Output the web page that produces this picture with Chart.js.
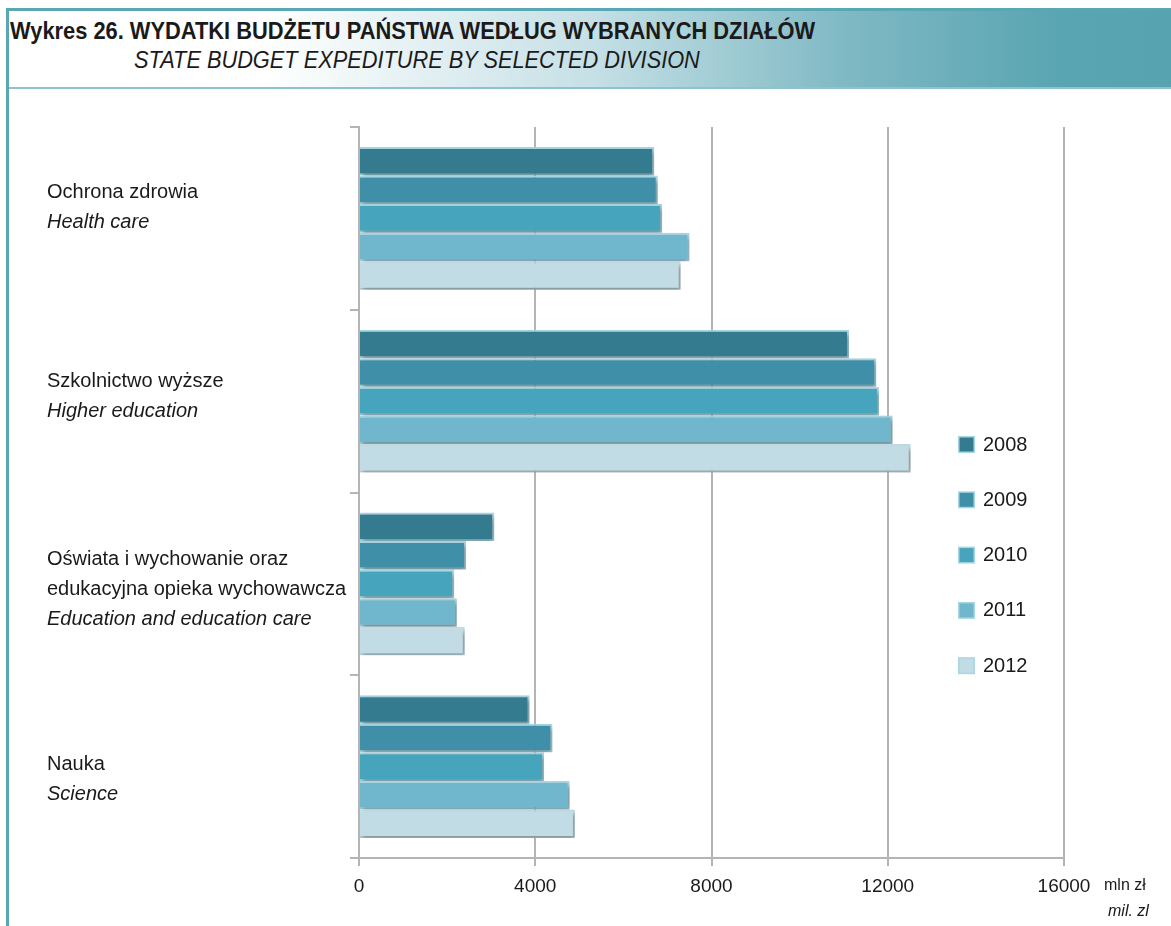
<!DOCTYPE html>
<html>
<head>
<meta charset="utf-8">
<script src="https://cdn.jsdelivr.net/npm/chart.js@4/dist/chart.umd.min.js"></script>
<style>
  html, body { margin: 0; padding: 0; background: #fff; }
  #page { position: relative; width: 1171px; height: 926px; overflow: hidden; }
  #frame { position: absolute; left: 6px; top: 8px; width: 1165px; height: 918px; border-left: 3px solid #5aa7b4; border-top: 3px solid #5aa7b4; box-sizing: border-box; }
  #header { position: absolute; left: 9px; top: 11px; width: 1162px; height: 76px;
    background: linear-gradient(90deg, #ffffff 0%, #ffffff 22%, #c6e0e6 50%, #7fb9c4 72%, #5aa5b2 90%, #57a3b0 100%);
    border-bottom: 2px solid #8cc3cd; }
  #title { position: absolute; left: 10px; top: 18px; font: bold 23px "Liberation Sans", Arial, sans-serif; color: #1a1a1a; white-space: nowrap; transform: scaleX(0.95); transform-origin: left center; }
  #subtitle { position: absolute; left: 134px; top: 47px; font: italic 23px "Liberation Sans", Arial, sans-serif; color: #1a1a1a; white-space: nowrap; transform: scaleX(0.946); transform-origin: left center; }
  #chartBox { position: absolute; left: 0; top: 88px; width: 1171px; height: 838px; }
</style>
</head>
<body>
<div id="page">
  <div id="frame"></div>
  <div id="header"></div>
  <div id="title">Wykres 26. WYDATKI BUDŻETU PAŃSTWA WEDŁUG WYBRANYCH DZIAŁÓW</div>
  <div id="subtitle">STATE BUDGET EXPEDITURE BY SELECTED DIVISION</div>
  <div id="chartBox"><canvas id="budgetChart"></canvas></div>
</div>
<script>
const categoriesPl = [
  ["Ochrona zdrowia"],
  ["Szkolnictwo wyższe"],
  ["Oświata i wychowanie oraz", "edukacyjna opieka wychowawcza"],
  ["Nauka"]
];
const categoriesEn = ["Health care", "Higher education", "Education and education care", "Science"];
const years = ["2008", "2009", "2010", "2011", "2012"];
const values2008 = [6700, 11120, 3070, 3870];
const values2009 = [6780, 11740, 2430, 4390];
const values2010 = [6880, 11800, 2160, 4200];
const values2011 = [7500, 12110, 2220, 4780];
const values2012 = [7300, 12520, 2400, 4900];
const xTicks = [0, 4000, 8000, 12000, 16000];
const colors = ["#357b8f", "#3f8fa9", "#46a4bd", "#70b6cd", "#c2dce5"];

// small vertical nudges of the left-hand label blocks (layout only)
const labelNudge = [-7, -1, 10, 17];

const regular = '"Liberation Sans", Arial, sans-serif';

const seriesValues = [values2008, values2009, values2010, values2011, values2012];
const datasets = years.map((year, i) => ({
  label: year,
  data: seriesValues[i],
  backgroundColor: colors[i],
  borderColor: i === 4 ? "#c2dce5" : "#a8d6e3",
  borderWidth: 2,
  borderSkipped: "left",
  categoryPercentage: 0.78,
  barPercentage: 1.0,
}));

// shadow under bars
const barShadow = {
  id: "barShadow",
  beforeDatasetsDraw(chart) {
    const ctx = chart.ctx;
    ctx.save();
    ctx.shadowColor = "rgba(0,0,0,0.35)";
    ctx.shadowBlur = 5;
    ctx.shadowOffsetX = 2;
    ctx.shadowOffsetY = 3;
  },
  afterDatasetsDraw(chart) {
    chart.ctx.restore();
  },
};

// two-language category labels and in-plot legend
const labelsAndLegend = {
  id: "labelsAndLegend",
  afterDraw(chart) {
    const ctx = chart.ctx;
    const yScale = chart.scales.y;
    const xScale = chart.scales.x;
    const area = chart.chartArea;
    ctx.save();
    ctx.fillStyle = "#1a1a1a";
    ctx.textBaseline = "middle";
    ctx.textAlign = "left";
    const lineH = 30;
    categoriesPl.forEach((lines, i) => {
      const total = lines.length + 1;
      const cy = yScale.getPixelForValue(i) + labelNudge[i];
      let y = cy - ((total - 1) * lineH) / 2 - 4;
      ctx.font = "20px " + regular;
      lines.forEach((line) => {
        ctx.fillText(line, 47, y);
        y += lineH;
      });
      ctx.font = "italic 20px " + regular;
      ctx.fillText(categoriesEn[i], 47, y);
    });

    // legend
    const lx = area.right - 106;
    let ly = area.top + 317;
    chart.data.datasets.forEach((ds) => {
      ctx.fillStyle = "#a8d6e3";
      ctx.fillRect(lx, ly - 8, 17, 17);
      ctx.fillStyle = ds.backgroundColor;
      ctx.fillRect(lx + 1.5, ly - 6.5, 14, 14);
      ctx.fillStyle = "#1a1a1a";
      ctx.font = "20px " + regular;
      ctx.fillText(ds.label, lx + 25, ly + 1);
      ly += 55.3;
    });

    // unit
    ctx.font = "16px " + regular;
    ctx.fillText("mln zł", xScale.right + 40, xScale.bottom - 12);
    ctx.font = "italic 16px " + regular;
    ctx.fillText("mil. zl", xScale.right + 44, xScale.bottom + 14);
    ctx.restore();
  },
};

new Chart(document.getElementById("budgetChart"), {
  type: "bar",
  data: {
    labels: categoriesEn,
    datasets: datasets,
  },
  options: {
    indexAxis: "y",
    responsive: true,
    maintainAspectRatio: false,
    animation: false,
    layout: { padding: { left: 339, right: 107, top: 39, bottom: 28 } },
    plugins: {
      legend: { display: false },
      tooltip: { enabled: false },
    },
    scales: {
      x: {
        min: 0,
        max: 16000,
        afterBuildTicks: (scale) => {
          scale.ticks = xTicks.map((v) => ({ value: v }));
        },
        afterFit: (scale) => {
          scale.height = 40;
        },
        grid: {
          color: (c) => (c.tick && c.tick.value === 0 ? "rgba(0,0,0,0)" : "#b4b4b4"),
          lineWidth: 2,
          tickLength: 8,
          tickColor: "#b4b4b4",
        },
        border: { display: true, color: "#b4b4b4", width: 2 },
        ticks: {
          color: "#1a1a1a",
          font: { family: regular, size: 19 },
          padding: 9,
          maxRotation: 0,
          callback: (value) => String(value),
        },
      },
      y: {
        afterFit: (scale) => {
          scale.width = 20;
        },
        grid: {
          offset: true,
          drawOnChartArea: false,
          tickLength: 9,
          lineWidth: 2,
          color: "#b4b4b4",
        },
        border: { display: true, color: "#b4b4b4", width: 2 },
        ticks: { display: false },
      },
    },
  },
  plugins: [barShadow, labelsAndLegend],
});
</script>
</body>
</html>
